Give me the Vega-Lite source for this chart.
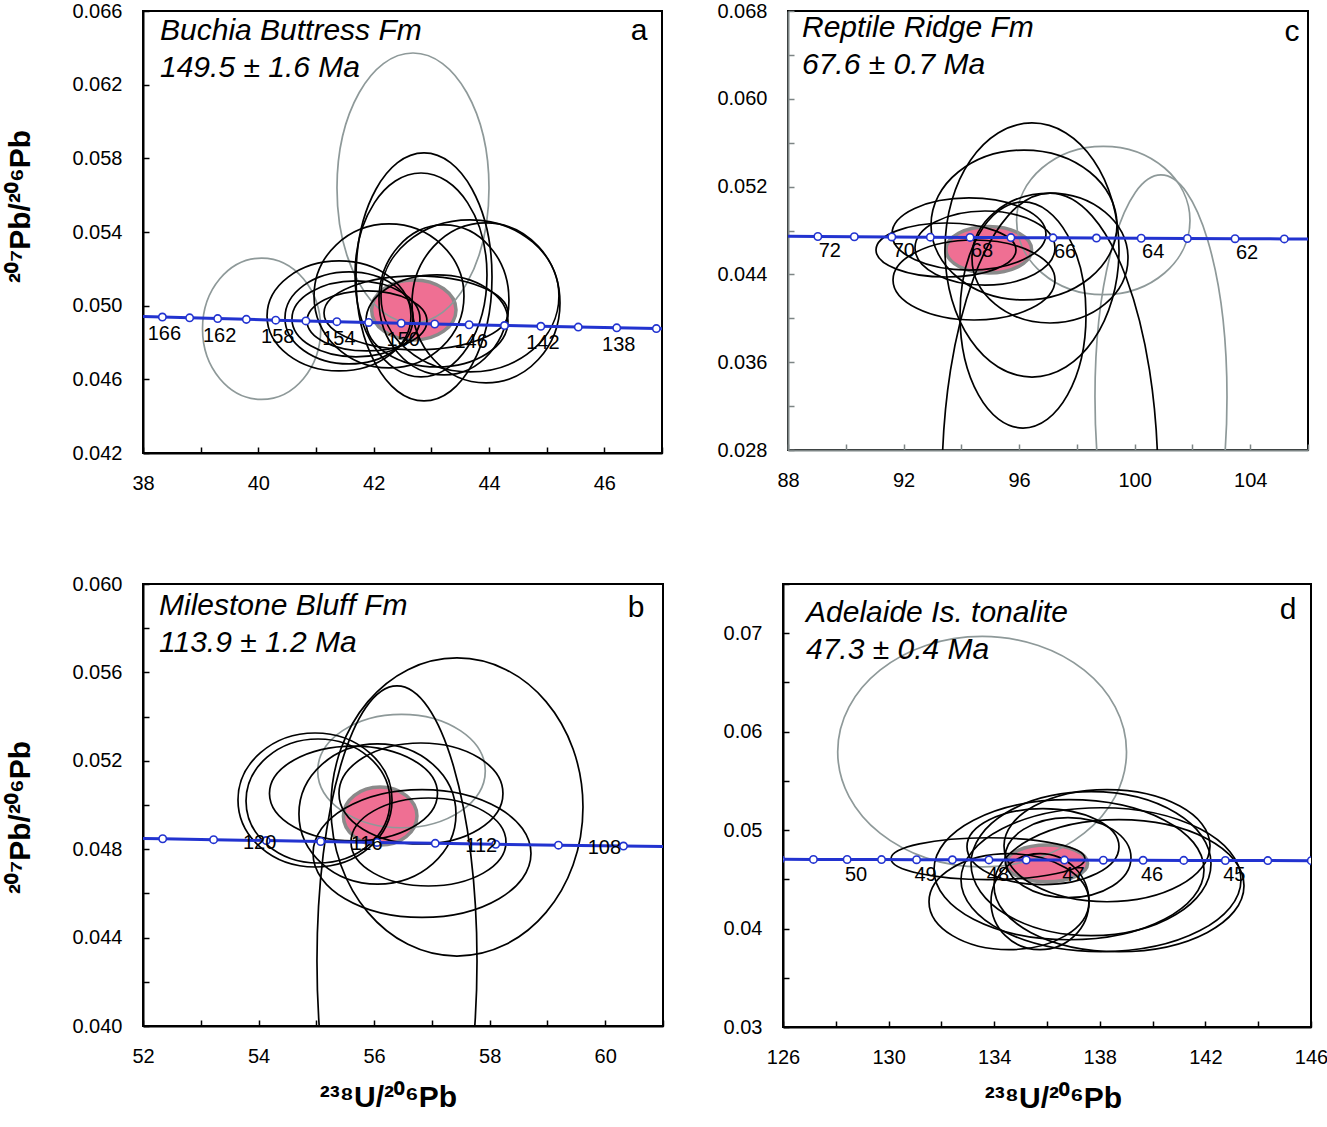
{
  "$schema": "https://vega.github.io/schema/vega-lite/v6.json",
  "background": "white",
  "padding": {"left": 4, "top": 0, "right": 5, "bottom": 5},
  "config": {
    "font": "Liberation Sans",
    "view": {"stroke": "#000000", "strokeWidth": 2},
    "axis": {"labelFont": "Liberation Sans", "titleFont": "Liberation Sans", "labelColor": "#000000", "titleColor": "#000000", "domainColor": "#000000", "tickColor": "#000000", "domainWidth": 2, "tickWidth": 1.5, "tickSize": -6, "labelFontSize": 20, "grid": false, "labelOverlap": false, "labelFlush": false},
    "title": {"font": "Liberation Sans"},
    "text": {"font": "Liberation Sans"}
  },
  "datasets": {
    "ell": [
      {"p": "a", "id": "a0", "kind": "mean", "x": 42.696, "y": 0.049768, "sx": 0.732, "sy": 0.001629},
      {"p": "a", "id": "a13", "kind": "gray", "x": 42.682, "y": 0.056391, "sx": 1.318, "sy": 0.00733},
      {"p": "a", "id": "a14", "kind": "gray", "x": 40.057, "y": 0.048747, "sx": 1.025, "sy": 0.003833},
      {"p": "a", "id": "a1", "kind": "black", "x": 42.873, "y": 0.051559, "sx": 1.179, "sy": 0.006732},
      {"p": "a", "id": "a2", "kind": "black", "x": 42.821, "y": 0.051668, "sx": 1.144, "sy": 0.005537},
      {"p": "a", "id": "a3", "kind": "black", "x": 43.67, "y": 0.050528, "sx": 1.543, "sy": 0.004126},
      {"p": "a", "id": "a4", "kind": "black", "x": 43.948, "y": 0.050148, "sx": 1.283, "sy": 0.004343},
      {"p": "a", "id": "a5", "kind": "black", "x": 43.219, "y": 0.05031, "sx": 1.127, "sy": 0.004072},
      {"p": "a", "id": "a6", "kind": "black", "x": 42.266, "y": 0.050528, "sx": 1.3, "sy": 0.003909},
      {"p": "a", "id": "a7", "kind": "black", "x": 41.399, "y": 0.049442, "sx": 1.248, "sy": 0.002986},
      {"p": "a", "id": "a8", "kind": "black", "x": 41.572, "y": 0.049333, "sx": 1.11, "sy": 0.002497},
      {"p": "a", "id": "a9", "kind": "black", "x": 41.693, "y": 0.049279, "sx": 1.11, "sy": 0.002063},
      {"p": "a", "id": "a10", "kind": "black", "x": 41.884, "y": 0.04917, "sx": 1.04, "sy": 0.001629},
      {"p": "a", "id": "a11", "kind": "black", "x": 42.734, "y": 0.049605, "sx": 1.595, "sy": 0.002009},
      {"p": "a", "id": "a12", "kind": "black", "x": 43.098, "y": 0.04917, "sx": 1.231, "sy": 0.002497},

      {"p": "c", "id": "c0", "kind": "mean", "x": 94.951, "y": 0.04625, "sx": 1.482, "sy": 0.002123},
      {"p": "c", "id": "c10", "kind": "gray", "x": 98.914, "y": 0.048911, "sx": 3.001, "sy": 0.006761},
      {"p": "c", "id": "c11", "kind": "gray", "x": 100.911, "y": 0.032829, "sx": 2.285, "sy": 0.020228},
      {"p": "c", "id": "c1", "kind": "black", "x": 96.446, "y": 0.046223, "sx": 3.012, "sy": 0.011572},
      {"p": "c", "id": "c2", "kind": "black", "x": 96.169, "y": 0.048501, "sx": 3.219, "sy": 0.006834},
      {"p": "c", "id": "c3", "kind": "black", "x": 96.135, "y": 0.040301, "sx": 2.181, "sy": 0.010296},
      {"p": "c", "id": "c4", "kind": "black", "x": 97.069, "y": 0.024993, "sx": 3.738, "sy": 0.026424},
      {"p": "c", "id": "c5", "kind": "black", "x": 93.469, "y": 0.046223, "sx": 2.423, "sy": 0.00246},
      {"p": "c", "id": "c6", "kind": "black", "x": 94.265, "y": 0.047681, "sx": 2.665, "sy": 0.00328},
      {"p": "c", "id": "c7", "kind": "black", "x": 94.439, "y": 0.04349, "sx": 2.804, "sy": 0.003645},
      {"p": "c", "id": "c8", "kind": "black", "x": 94.819, "y": 0.046405, "sx": 2.423, "sy": 0.003371},
      {"p": "c", "id": "c9", "kind": "black", "x": 97.069, "y": 0.045494, "sx": 2.7, "sy": 0.005923},

      {"p": "b", "id": "b0", "kind": "mean", "x": 56.105, "y": 0.049502, "sx": 0.637, "sy": 0.001312},
      {"p": "b", "id": "b10", "kind": "gray", "x": 56.474, "y": 0.051538, "sx": 1.45, "sy": 0.002566},
      {"p": "b", "id": "b1", "kind": "black", "x": 57.434, "y": 0.04991, "sx": 2.181, "sy": 0.006742},
      {"p": "b", "id": "b2", "kind": "black", "x": 56.396, "y": 0.042941, "sx": 1.385, "sy": 0.012443},
      {"p": "b", "id": "b3", "kind": "black", "x": 54.977, "y": 0.050226, "sx": 1.333, "sy": 0.003032},
      {"p": "b", "id": "b4", "kind": "black", "x": 55.029, "y": 0.050181, "sx": 1.246, "sy": 0.002805},
      {"p": "b", "id": "b5", "kind": "black", "x": 55.643, "y": 0.05052, "sx": 1.454, "sy": 0.002149},
      {"p": "b", "id": "b6", "kind": "black", "x": 56.058, "y": 0.049593, "sx": 1.359, "sy": 0.003167},
      {"p": "b", "id": "b7", "kind": "black", "x": 56.811, "y": 0.05052, "sx": 1.419, "sy": 0.002285},
      {"p": "b", "id": "b8", "kind": "black", "x": 56.829, "y": 0.047805, "sx": 1.886, "sy": 0.002896},
      {"p": "b", "id": "b9", "kind": "black", "x": 56.941, "y": 0.048326, "sx": 1.341, "sy": 0.001991},

      {"p": "d", "id": "d0", "kind": "mean", "x": 135.992, "y": 0.046619, "sx": 1.545, "sy": 0.001859},
      {"p": "d", "id": "d11", "kind": "gray", "x": 133.542, "y": 0.057966, "sx": 5.47, "sy": 0.011703},
      {"p": "d", "id": "d1", "kind": "black", "x": 133.765, "y": 0.047097, "sx": 3.674, "sy": 0.002133},
      {"p": "d", "id": "d2", "kind": "black", "x": 134.561, "y": 0.042729, "sx": 3.03, "sy": 0.004876},
      {"p": "d", "id": "d3", "kind": "black", "x": 136.833, "y": 0.045979, "sx": 5.114, "sy": 0.007111},
      {"p": "d", "id": "d4", "kind": "black", "x": 137.667, "y": 0.046589, "sx": 4.545, "sy": 0.007314},
      {"p": "d", "id": "d5", "kind": "black", "x": 138.045, "y": 0.044964, "sx": 5.303, "sy": 0.007314},
      {"p": "d", "id": "d6", "kind": "black", "x": 136.795, "y": 0.047198, "sx": 2.386, "sy": 0.004063},
      {"p": "d", "id": "d7", "kind": "black", "x": 135.848, "y": 0.048316, "sx": 2.879, "sy": 0.00386},
      {"p": "d", "id": "d8", "kind": "black", "x": 138.273, "y": 0.048417, "sx": 3.902, "sy": 0.005689},
      {"p": "d", "id": "d9", "kind": "black", "x": 138.727, "y": 0.044354, "sx": 4.735, "sy": 0.006705},
      {"p": "d", "id": "d10", "kind": "black", "x": 135.735, "y": 0.042729, "sx": 1.856, "sy": 0.004876}
    ],
    "conc": [
      {"p": "a", "age": 134, "x": 47.609, "y": 0.048712},
      {"p": "a", "age": 136, "x": 46.902, "y": 0.048754},
      {"p": "a", "age": 138, "x": 46.215, "y": 0.048796},
      {"p": "a", "age": 140, "x": 45.548, "y": 0.048838},
      {"p": "a", "age": 142, "x": 44.899, "y": 0.04888},
      {"p": "a", "age": 144, "x": 44.269, "y": 0.048921},
      {"p": "a", "age": 146, "x": 43.655, "y": 0.048963},
      {"p": "a", "age": 148, "x": 43.059, "y": 0.049005},
      {"p": "a", "age": 150, "x": 42.478, "y": 0.049045},
      {"p": "a", "age": 152, "x": 41.913, "y": 0.049089},
      {"p": "a", "age": 154, "x": 41.362, "y": 0.049131},
      {"p": "a", "age": 156, "x": 40.825, "y": 0.049173},
      {"p": "a", "age": 158, "x": 40.302, "y": 0.049214},
      {"p": "a", "age": 160, "x": 39.792, "y": 0.049256},
      {"p": "a", "age": 162, "x": 39.295, "y": 0.049298},
      {"p": "a", "age": 164, "x": 38.809, "y": 0.049339},
      {"p": "a", "age": 166, "x": 38.336, "y": 0.049382},
      {"p": "a", "age": 168, "x": 37.875, "y": 0.049424},

      {"p": "c", "age": 60, "x": 106.941, "y": 0.047213},
      {"p": "c", "age": 61, "x": 105.18, "y": 0.047233},
      {"p": "c", "age": 62, "x": 103.475, "y": 0.047253},
      {"p": "c", "age": 63, "x": 101.825, "y": 0.047273},
      {"p": "c", "age": 64, "x": 100.226, "y": 0.047292},
      {"p": "c", "age": 65, "x": 98.677, "y": 0.047312},
      {"p": "c", "age": 66, "x": 97.174, "y": 0.047332},
      {"p": "c", "age": 67, "x": 95.716, "y": 0.047352},
      {"p": "c", "age": 68, "x": 94.301, "y": 0.047372},
      {"p": "c", "age": 69, "x": 92.927, "y": 0.047392},
      {"p": "c", "age": 70, "x": 91.593, "y": 0.047412},
      {"p": "c", "age": 71, "x": 90.296, "y": 0.047431},
      {"p": "c", "age": 72, "x": 89.034, "y": 0.047451},
      {"p": "c", "age": 73, "x": 87.808, "y": 0.047471},
      {"p": "c", "age": 74, "x": 86.615, "y": 0.047491},

      {"p": "b", "age": 102, "x": 62.701, "y": 0.04806},
      {"p": "b", "age": 104, "x": 61.486, "y": 0.048101},
      {"p": "b", "age": 106, "x": 60.316, "y": 0.048143},
      {"p": "b", "age": 108, "x": 59.19, "y": 0.048184},
      {"p": "b", "age": 110, "x": 58.105, "y": 0.048225},
      {"p": "b", "age": 112, "x": 57.058, "y": 0.048266},
      {"p": "b", "age": 114, "x": 56.049, "y": 0.048307},
      {"p": "b", "age": 116, "x": 55.075, "y": 0.048349},
      {"p": "b", "age": 118, "x": 54.133, "y": 0.04839},
      {"p": "b", "age": 120, "x": 53.222, "y": 0.048431},
      {"p": "b", "age": 122, "x": 52.341, "y": 0.048472},
      {"p": "b", "age": 124, "x": 51.489, "y": 0.048513},

      {"p": "d", "age": 44, "x": 146.01, "y": 0.046895},
      {"p": "d", "age": 44.5, "x": 144.364, "y": 0.046905},
      {"p": "d", "age": 45, "x": 142.755, "y": 0.046915},
      {"p": "d", "age": 45.5, "x": 141.18, "y": 0.046925},
      {"p": "d", "age": 46, "x": 139.64, "y": 0.046934},
      {"p": "d", "age": 46.5, "x": 138.133, "y": 0.046944},
      {"p": "d", "age": 47, "x": 136.659, "y": 0.046954},
      {"p": "d", "age": 47.5, "x": 135.215, "y": 0.046964},
      {"p": "d", "age": 48, "x": 133.801, "y": 0.046974},
      {"p": "d", "age": 48.5, "x": 132.417, "y": 0.046984},
      {"p": "d", "age": 49, "x": 131.06, "y": 0.046994},
      {"p": "d", "age": 49.5, "x": 129.732, "y": 0.047004},
      {"p": "d", "age": 50, "x": 128.429, "y": 0.047014},
      {"p": "d", "age": 50.5, "x": 127.153, "y": 0.047024},
      {"p": "d", "age": 51, "x": 125.901, "y": 0.047034}
    ]
  },
  "spacing": 79,
  "resolve": {"scale": {"size": "independent", "shape": "independent"}},
  "vconcat": [
    {
      "spacing": 51,
      "resolve": {"scale": {"size": "independent", "shape": "independent"}},
      "hconcat": [
        {
          "width": 519, "height": 442,
          "title": {"text": ["Buchia Buttress Fm", "149.5 ± 1.6 Ma"], "anchor": "start", "orient": "top", "frame": "group", "offset": -82, "dx": 17, "fontSize": 30, "fontStyle": "italic", "fontWeight": "normal", "lineHeight": 37, "color": "#000000", "font": "Liberation Sans"},
          "resolve": {"axis": {"x": "independent"}},
          "layer": [
            {
              "data": {"name": "ell"},
              "transform": [{"filter": "datum.p == 'a' && datum.kind == 'mean'"}],
              "mark": {"type": "point", "filled": true, "fill": "#ef6f93", "stroke": "#8a8a8a", "strokeWidth": 3.5, "opacity": 1, "clip": true},
              "encoding": {
                "x": {"field": "x", "type": "quantitative", "scale": {"domain": [38, 47], "nice": false, "zero": false},
                  "axis": {"orient": "bottom", "values": [38, 39, 40, 41, 42, 43, 44, 45, 46, 47], "format": "d", "labelExpr": "datum.value % 2 == 0 ? datum.label : ''", "labelPadding": 26, "title": null}},
                "y": {"field": "y", "type": "quantitative", "scale": {"domain": [0.042, 0.066], "nice": false, "zero": false},
                  "axis": {"values": [0.042, 0.044, 0.046, 0.048, 0.05, 0.052, 0.054, 0.056, 0.058, 0.06, 0.062, 0.064, 0.066], "format": ".3f", "labelExpr": "round(datum.value*1000) % 4 == 2 ? datum.label : ''", "labelPadding": 27, "title": "²⁰⁷Pb/²⁰⁶Pb", "titleFontSize": 30, "titleFontWeight": "bold", "titlePadding": 36, "titleY": 195}},
                "size": {"field": "sx", "type": "quantitative", "scale": {"type": "pow", "exponent": 2, "domain": [0, 2], "range": [0, 53207], "zero": true, "nice": false}, "legend": null},
                "shape": {"field": "id", "type": "nominal", "legend": null, "scale": {
                  "domain": ["a0", "a1", "a2", "a3", "a4", "a5", "a6", "a7", "a8", "a9", "a10", "a11", "a12", "a13", "a14"],
                  "range": [
                    "M1,0C1,0.393 0.552,0.711 0,0.711C-0.552,0.711 -1,0.393 -1,0C-1,-0.393 -0.552,-0.711 0,-0.711C0.552,-0.711 1,-0.393 1,0Z",
                    "M1,0C1,1.007 0.552,1.824 0,1.824C-0.552,1.824 -1,1.007 -1,0C-1,-1.007 -0.552,-1.824 0,-1.824C0.552,-1.824 1,-1.007 1,0Z",
                    "M1,0C1,0.853 0.552,1.545 0,1.545C-0.552,1.545 -1,0.853 -1,0C-1,-0.853 -0.552,-1.545 0,-1.545C0.552,-1.545 1,-0.853 1,0Z",
                    "M1,0C1,0.472 0.552,0.854 0,0.854C-0.552,0.854 -1,0.472 -1,0C-1,-0.472 -0.552,-0.854 0,-0.854C0.552,-0.854 1,-0.472 1,0Z",
                    "M1,0C1,0.597 0.552,1.081 0,1.081C-0.552,1.081 -1,0.597 -1,0C-1,-0.597 -0.552,-1.081 0,-1.081C0.552,-1.081 1,-0.597 1,0Z",
                    "M1,0C1,0.637 0.552,1.154 0,1.154C-0.552,1.154 -1,0.637 -1,0C-1,-0.637 -0.552,-1.154 0,-1.154C0.552,-1.154 1,-0.637 1,0Z",
                    "M1,0C1,0.53 0.552,0.96 0,0.96C-0.552,0.96 -1,0.53 -1,0C-1,-0.53 -0.552,-0.96 0,-0.96C0.552,-0.96 1,-0.53 1,0Z",
                    "M1,0C1,0.422 0.552,0.764 0,0.764C-0.552,0.764 -1,0.422 -1,0C-1,-0.422 -0.552,-0.764 0,-0.764C0.552,-0.764 1,-0.422 1,0Z",
                    "M1,0C1,0.397 0.552,0.719 0,0.719C-0.552,0.719 -1,0.397 -1,0C-1,-0.397 -0.552,-0.719 0,-0.719C0.552,-0.719 1,-0.397 1,0Z",
                    "M1,0C1,0.328 0.552,0.594 0,0.594C-0.552,0.594 -1,0.328 -1,0C-1,-0.328 -0.552,-0.594 0,-0.594C0.552,-0.594 1,-0.328 1,0Z",
                    "M1,0C1,0.276 0.552,0.5 0,0.5C-0.552,0.5 -1,0.276 -1,0C-1,-0.276 -0.552,-0.5 0,-0.5C0.552,-0.5 1,-0.276 1,0Z",
                    "M1,0C1,0.222 0.552,0.402 0,0.402C-0.552,0.402 -1,0.222 -1,0C-1,-0.222 -0.552,-0.402 0,-0.402C0.552,-0.402 1,-0.222 1,0Z",
                    "M1,0C1,0.358 0.552,0.648 0,0.648C-0.552,0.648 -1,0.358 -1,0C-1,-0.358 -0.552,-0.648 0,-0.648C0.552,-0.648 1,-0.358 1,0Z",
                    "M1,0C1,0.981 0.552,1.776 0,1.776C-0.552,1.776 -1,0.981 -1,0C-1,-0.981 -0.552,-1.776 0,-1.776C0.552,-1.776 1,-0.981 1,0Z",
                    "M1,0C1,0.66 0.552,1.195 0,1.195C-0.552,1.195 -1,0.66 -1,0C-1,-0.66 -0.552,-1.195 0,-1.195C0.552,-1.195 1,-0.66 1,0Z"
                  ]}}
              }
            },
            {
              "data": {"name": "ell"},
              "transform": [{"filter": "datum.p == 'a' && datum.kind != 'mean'"}],
              "mark": {"type": "point", "filled": false, "strokeWidth": 1.7, "opacity": 1, "clip": true},
              "encoding": {
                "x": {"field": "x", "type": "quantitative", "axis": null},
                "y": {"field": "y", "type": "quantitative"},
                "size": {"field": "sx", "type": "quantitative", "scale": {"type": "pow", "exponent": 2, "domain": [0, 2], "range": [0, 53207], "zero": true, "nice": false}, "legend": null},
                "shape": {"field": "id", "type": "nominal", "legend": null},
                "stroke": {"field": "kind", "type": "nominal", "scale": {"domain": ["gray", "black"], "range": ["#8e9999", "#000000"]}, "legend": null}
              }
            },
            {
              "data": {"name": "conc"},
              "transform": [{"filter": "datum.p == 'a'"}],
              "mark": {"type": "line", "color": "#2233d0", "strokeWidth": 3, "clip": true},
              "encoding": {
                "x": {"field": "x", "type": "quantitative", "axis": {"orient": "top", "labels": false, "ticks": false, "domain": false, "grid": false, "title": "a", "titleX": 504, "titleY": 28, "titleAlign": "right", "titleAngle": 0, "titleBaseline": "alphabetic", "titleFontSize": 30, "titleFontWeight": "normal"}},
                "y": {"field": "y", "type": "quantitative"},
                "order": {"field": "age", "type": "quantitative"}
              }
            },
            {
              "data": {"name": "conc"},
              "transform": [{"filter": "datum.p == 'a'"}],
              "mark": {"type": "point", "filled": true, "fill": "white", "stroke": "#2233d0", "strokeWidth": 1.6, "size": 55, "opacity": 1, "clip": true},
              "encoding": {
                "x": {"field": "x", "type": "quantitative", "axis": null},
                "y": {"field": "y", "type": "quantitative"}
              }
            },
            {
              "data": {"name": "conc"},
              "transform": [{"filter": "datum.p == 'a' && datum.age % 4 == 2 && datum.age >= 138 && datum.age <= 166"}],
              "mark": {"type": "text", "fontSize": 20, "dx": 2, "dy": 17, "color": "#000000"},
              "encoding": {
                "x": {"field": "x", "type": "quantitative", "axis": null},
                "y": {"field": "y", "type": "quantitative"},
                "text": {"field": "age", "type": "quantitative"}
              }
            }
          ]
        },
        {
          "width": 520, "height": 439,
          "title": {"text": ["Reptile Ridge Fm", "67.6 ± 0.7 Ma"], "anchor": "start", "orient": "top", "frame": "group", "offset": -79, "dx": 14, "fontSize": 30, "fontStyle": "italic", "fontWeight": "normal", "lineHeight": 37, "color": "#000000", "font": "Liberation Sans"},
          "resolve": {"axis": {"x": "independent"}},
          "layer": [
            {
              "data": {"name": "ell"},
              "transform": [{"filter": "datum.p == 'c' && datum.kind == 'mean'"}],
              "mark": {"type": "point", "filled": true, "fill": "#ef6f93", "stroke": "#8a8a8a", "strokeWidth": 3.5, "opacity": 1, "clip": true},
              "encoding": {
                "x": {"field": "x", "type": "quantitative", "scale": {"domain": [88, 106], "nice": false, "zero": false},
                  "axis": {"orient": "bottom", "values": [88, 90, 92, 94, 96, 98, 100, 102, 104, 106], "format": "d", "labelExpr": "(datum.value - 88) % 4 == 0 ? datum.label : ''", "labelPadding": 26, "title": null, "domainColor": "#7d8585", "tickColor": "#7d8585"}},
                "y": {"field": "y", "type": "quantitative", "scale": {"domain": [0.028, 0.068], "nice": false, "zero": false},
                  "axis": {"values": [0.028, 0.032, 0.036, 0.04, 0.044, 0.048, 0.052, 0.056, 0.06, 0.064, 0.068], "format": ".3f", "labelExpr": "round(datum.value*1000) % 8 == 4 ? datum.label : ''", "labelPadding": 27, "title": null, "domainColor": "#7d8585", "tickColor": "#7d8585"}},
                "size": {"field": "sx", "type": "quantitative", "scale": {"type": "pow", "exponent": 2, "domain": [0, 4], "range": [0, 53412], "zero": true, "nice": false}, "legend": null},
                "shape": {"field": "id", "type": "nominal", "legend": null, "scale": {
                  "domain": ["c0", "c1", "c2", "c3", "c4", "c5", "c6", "c7", "c8", "c9", "c10", "c11"],
                  "range": [
                    "M1,0C1,0.3 0.552,0.544 0,0.544C-0.552,0.544 -1,0.3 -1,0C-1,-0.3 -0.552,-0.544 0,-0.544C0.552,-0.544 1,-0.3 1,0Z",
                    "M1,0C1,0.806 0.552,1.46 0,1.46C-0.552,1.46 -1,0.806 -1,0C-1,-0.806 -0.552,-1.46 0,-1.46C0.552,-1.46 1,-0.806 1,0Z",
                    "M1,0C1,0.445 0.552,0.806 0,0.806C-0.552,0.806 -1,0.445 -1,0C-1,-0.445 -0.552,-0.806 0,-0.806C0.552,-0.806 1,-0.445 1,0Z",
                    "M1,0C1,0.991 0.552,1.794 0,1.794C-0.552,1.794 -1,0.991 -1,0C-1,-0.991 -0.552,-1.794 0,-1.794C0.552,-1.794 1,-0.991 1,0Z",
                    "M1,0C1,1.483 0.552,2.685 0,2.685C-0.552,2.685 -1,1.483 -1,0C-1,-1.483 -0.552,-2.685 0,-2.685C0.552,-2.685 1,-1.483 1,0Z",
                    "M1,0C1,0.213 0.552,0.386 0,0.386C-0.552,0.386 -1,0.213 -1,0C-1,-0.213 -0.552,-0.386 0,-0.386C0.552,-0.386 1,-0.213 1,0Z",
                    "M1,0C1,0.258 0.552,0.468 0,0.468C-0.552,0.468 -1,0.258 -1,0C-1,-0.258 -0.552,-0.468 0,-0.468C0.552,-0.468 1,-0.258 1,0Z",
                    "M1,0C1,0.273 0.552,0.494 0,0.494C-0.552,0.494 -1,0.273 -1,0C-1,-0.273 -0.552,-0.494 0,-0.494C0.552,-0.494 1,-0.273 1,0Z",
                    "M1,0C1,0.292 0.552,0.529 0,0.529C-0.552,0.529 -1,0.292 -1,0C-1,-0.292 -0.552,-0.529 0,-0.529C0.552,-0.529 1,-0.292 1,0Z",
                    "M1,0C1,0.46 0.552,0.833 0,0.833C-0.552,0.833 -1,0.46 -1,0C-1,-0.46 -0.552,-0.833 0,-0.833C0.552,-0.833 1,-0.46 1,0Z",
                    "M1,0C1,0.473 0.552,0.856 0,0.856C-0.552,0.856 -1,0.473 -1,0C-1,-0.473 -0.552,-0.856 0,-0.856C0.552,-0.856 1,-0.473 1,0Z",
                    "M1,0C1,1.858 0.552,3.364 0,3.364C-0.552,3.364 -1,1.858 -1,0C-1,-1.858 -0.552,-3.364 0,-3.364C0.552,-3.364 1,-1.858 1,0Z"
                  ]}}
              }
            },
            {
              "data": {"name": "ell"},
              "transform": [{"filter": "datum.p == 'c' && datum.kind != 'mean'"}],
              "mark": {"type": "point", "filled": false, "strokeWidth": 1.7, "opacity": 1, "clip": true},
              "encoding": {
                "x": {"field": "x", "type": "quantitative", "axis": null},
                "y": {"field": "y", "type": "quantitative"},
                "size": {"field": "sx", "type": "quantitative", "scale": {"type": "pow", "exponent": 2, "domain": [0, 4], "range": [0, 53412], "zero": true, "nice": false}, "legend": null},
                "shape": {"field": "id", "type": "nominal", "legend": null},
                "stroke": {"field": "kind", "type": "nominal", "scale": {"domain": ["gray", "black"], "range": ["#8e9999", "#000000"]}, "legend": null}
              }
            },
            {
              "data": {"name": "conc"},
              "transform": [{"filter": "datum.p == 'c'"}],
              "mark": {"type": "line", "color": "#2233d0", "strokeWidth": 3, "clip": true},
              "encoding": {
                "x": {"field": "x", "type": "quantitative", "axis": {"orient": "top", "labels": false, "ticks": false, "domain": false, "grid": false, "title": "c", "titleX": 511, "titleY": 29, "titleAlign": "right", "titleAngle": 0, "titleBaseline": "alphabetic", "titleFontSize": 30, "titleFontWeight": "normal"}},
                "y": {"field": "y", "type": "quantitative"},
                "order": {"field": "age", "type": "quantitative"}
              }
            },
            {
              "data": {"name": "conc"},
              "transform": [{"filter": "datum.p == 'c'"}],
              "mark": {"type": "point", "filled": true, "fill": "white", "stroke": "#2233d0", "strokeWidth": 1.6, "size": 55, "opacity": 1, "clip": true},
              "encoding": {
                "x": {"field": "x", "type": "quantitative", "axis": null},
                "y": {"field": "y", "type": "quantitative"}
              }
            },
            {
              "data": {"name": "conc"},
              "transform": [{"filter": "datum.p == 'c' && datum.age % 2 == 0 && datum.age >= 62 && datum.age <= 72"}],
              "mark": {"type": "text", "fontSize": 20, "dx": 12, "dy": 14, "color": "#000000"},
              "encoding": {
                "x": {"field": "x", "type": "quantitative", "axis": null},
                "y": {"field": "y", "type": "quantitative"},
                "text": {"field": "age", "type": "quantitative"}
              }
            }
          ]
        }
      ]
    },
    {
      "spacing": 57,
      "resolve": {"scale": {"size": "independent", "shape": "independent"}},
      "hconcat": [
        {
          "width": 520, "height": 442,
          "title": {"text": ["Milestone Bluff Fm", "113.9 ± 1.2 Ma"], "anchor": "start", "orient": "top", "frame": "group", "offset": -84, "dx": 16, "fontSize": 30, "fontStyle": "italic", "fontWeight": "normal", "lineHeight": 37, "color": "#000000", "font": "Liberation Sans"},
          "resolve": {"axis": {"x": "independent"}},
          "layer": [
            {
              "data": {"name": "ell"},
              "transform": [{"filter": "datum.p == 'b' && datum.kind == 'mean'"}],
              "mark": {"type": "point", "filled": true, "fill": "#ef6f93", "stroke": "#8a8a8a", "strokeWidth": 3.5, "opacity": 1, "clip": true},
              "encoding": {
                "x": {"field": "x", "type": "quantitative", "scale": {"domain": [52, 61], "nice": false, "zero": false},
                  "axis": {"orient": "bottom", "values": [52, 53, 54, 55, 56, 57, 58, 59, 60, 61], "format": "d", "labelExpr": "datum.value % 2 == 0 ? datum.label : ''", "labelPadding": 26, "title": "²³⁸U/²⁰⁶Pb", "titleFontSize": 30, "titleFontWeight": "bold", "titlePadding": 16, "titleX": 245}},
                "y": {"field": "y", "type": "quantitative", "scale": {"domain": [0.04, 0.06], "nice": false, "zero": false},
                  "axis": {"values": [0.04, 0.042, 0.044, 0.046, 0.048, 0.05, 0.052, 0.054, 0.056, 0.058, 0.06], "format": ".3f", "labelExpr": "round(datum.value*1000) % 4 == 0 ? datum.label : ''", "labelPadding": 27, "title": "²⁰⁷Pb/²⁰⁶Pb", "titleFontSize": 30, "titleFontWeight": "bold", "titlePadding": 36, "titleY": 233}},
                "size": {"field": "sx", "type": "quantitative", "scale": {"type": "pow", "exponent": 2, "domain": [0, 3], "range": [0, 120178], "zero": true, "nice": false}, "legend": null},
                "shape": {"field": "id", "type": "nominal", "legend": null, "scale": {
                  "domain": ["b0", "b1", "b2", "b3", "b4", "b5", "b6", "b7", "b8", "b9", "b10"],
                  "range": [
                    "M1,0C1,0.435 0.552,0.788 0,0.788C-0.552,0.788 -1,0.435 -1,0C-1,-0.435 -0.552,-0.788 0,-0.788C0.552,-0.788 1,-0.435 1,0Z",
                    "M1,0C1,0.653 0.552,1.183 0,1.183C-0.552,1.183 -1,0.653 -1,0C-1,-0.653 -0.552,-1.183 0,-1.183C0.552,-1.183 1,-0.653 1,0Z",
                    "M1,0C1,1.899 0.552,3.438 0,3.438C-0.552,3.438 -1,1.899 -1,0C-1,-1.899 -0.552,-3.438 0,-3.438C0.552,-3.438 1,-1.899 1,0Z",
                    "M1,0C1,0.48 0.552,0.87 0,0.87C-0.552,0.87 -1,0.48 -1,0C-1,-0.48 -0.552,-0.87 0,-0.87C0.552,-0.87 1,-0.48 1,0Z",
                    "M1,0C1,0.476 0.552,0.861 0,0.861C-0.552,0.861 -1,0.476 -1,0C-1,-0.476 -0.552,-0.861 0,-0.861C0.552,-0.861 1,-0.476 1,0Z",
                    "M1,0C1,0.312 0.552,0.565 0,0.565C-0.552,0.565 -1,0.312 -1,0C-1,-0.312 -0.552,-0.565 0,-0.565C0.552,-0.565 1,-0.312 1,0Z",
                    "M1,0C1,0.493 0.552,0.892 0,0.892C-0.552,0.892 -1,0.493 -1,0C-1,-0.493 -0.552,-0.892 0,-0.892C0.552,-0.892 1,-0.493 1,0Z",
                    "M1,0C1,0.34 0.552,0.616 0,0.616C-0.552,0.616 -1,0.34 -1,0C-1,-0.34 -0.552,-0.616 0,-0.616C0.552,-0.616 1,-0.34 1,0Z",
                    "M1,0C1,0.324 0.552,0.587 0,0.587C-0.552,0.587 -1,0.324 -1,0C-1,-0.324 -0.552,-0.587 0,-0.587C0.552,-0.587 1,-0.324 1,0Z",
                    "M1,0C1,0.314 0.552,0.568 0,0.568C-0.552,0.568 -1,0.314 -1,0C-1,-0.314 -0.552,-0.568 0,-0.568C0.552,-0.568 1,-0.314 1,0Z",
                    "M1,0C1,0.374 0.552,0.677 0,0.677C-0.552,0.677 -1,0.374 -1,0C-1,-0.374 -0.552,-0.677 0,-0.677C0.552,-0.677 1,-0.374 1,0Z"
                  ]}}
              }
            },
            {
              "data": {"name": "ell"},
              "transform": [{"filter": "datum.p == 'b' && datum.kind != 'mean'"}],
              "mark": {"type": "point", "filled": false, "strokeWidth": 1.7, "opacity": 1, "clip": true},
              "encoding": {
                "x": {"field": "x", "type": "quantitative", "axis": null},
                "y": {"field": "y", "type": "quantitative"},
                "size": {"field": "sx", "type": "quantitative", "scale": {"type": "pow", "exponent": 2, "domain": [0, 3], "range": [0, 120178], "zero": true, "nice": false}, "legend": null},
                "shape": {"field": "id", "type": "nominal", "legend": null},
                "stroke": {"field": "kind", "type": "nominal", "scale": {"domain": ["gray", "black"], "range": ["#8e9999", "#000000"]}, "legend": null}
              }
            },
            {
              "data": {"name": "conc"},
              "transform": [{"filter": "datum.p == 'b'"}],
              "mark": {"type": "line", "color": "#2233d0", "strokeWidth": 3, "clip": true},
              "encoding": {
                "x": {"field": "x", "type": "quantitative", "axis": {"orient": "top", "labels": false, "ticks": false, "domain": false, "grid": false, "title": "b", "titleX": 501, "titleY": 32, "titleAlign": "right", "titleAngle": 0, "titleBaseline": "alphabetic", "titleFontSize": 30, "titleFontWeight": "normal"}},
                "y": {"field": "y", "type": "quantitative"},
                "order": {"field": "age", "type": "quantitative"}
              }
            },
            {
              "data": {"name": "conc"},
              "transform": [{"filter": "datum.p == 'b'"}],
              "mark": {"type": "point", "filled": true, "fill": "white", "stroke": "#2233d0", "strokeWidth": 1.6, "size": 55, "opacity": 1, "clip": true},
              "encoding": {
                "x": {"field": "x", "type": "quantitative", "axis": null},
                "y": {"field": "y", "type": "quantitative"}
              }
            },
            {
              "data": {"name": "conc"},
              "transform": [{"filter": "datum.p == 'b' && datum.age % 4 == 0 && datum.age >= 108 && datum.age <= 120"}],
              "mark": {"type": "text", "fontSize": 20, "dx": 46, "dy": 3, "color": "#000000"},
              "encoding": {
                "x": {"field": "x", "type": "quantitative", "axis": null},
                "y": {"field": "y", "type": "quantitative"},
                "text": {"field": "age", "type": "quantitative"}
              }
            }
          ]
        },
        {
          "width": 528, "height": 443,
          "title": {"text": ["Adelaide Is. tonalite", "47.3 ± 0.4 Ma"], "anchor": "start", "orient": "top", "frame": "group", "offset": -91, "dx": 23, "fontSize": 30, "fontStyle": "italic", "fontWeight": "normal", "lineHeight": 37, "color": "#000000", "font": "Liberation Sans"},
          "resolve": {"axis": {"x": "independent"}},
          "layer": [
            {
              "data": {"name": "ell"},
              "transform": [{"filter": "datum.p == 'd' && datum.kind == 'mean'"}],
              "mark": {"type": "point", "filled": true, "fill": "#ef6f93", "stroke": "#8a8a8a", "strokeWidth": 3.5, "opacity": 1, "clip": true},
              "encoding": {
                "x": {"field": "x", "type": "quantitative", "scale": {"domain": [126, 146], "nice": false, "zero": false},
                  "axis": {"orient": "bottom", "values": [126, 128, 130, 132, 134, 136, 138, 140, 142, 144, 146], "format": "d", "labelExpr": "(datum.value - 126) % 4 == 0 ? datum.label : ''", "labelPadding": 26, "title": "²³⁸U/²⁰⁶Pb", "titleFontSize": 30, "titleFontWeight": "bold", "titlePadding": 16, "titleX": 270}},
                "y": {"field": "y", "type": "quantitative", "scale": {"domain": [0.03, 0.075], "nice": false, "zero": false},
                  "axis": {"values": [0.03, 0.035, 0.04, 0.045, 0.05, 0.055, 0.06, 0.065, 0.07, 0.075], "format": ".2f", "labelExpr": "round(datum.value*1000) % 10 == 0 ? datum.label : ''", "labelPadding": 27, "title": null}},
                "size": {"field": "sx", "type": "quantitative", "scale": {"type": "pow", "exponent": 2, "domain": [0, 6], "range": [0, 100362], "zero": true, "nice": false}, "legend": null},
                "shape": {"field": "id", "type": "nominal", "legend": null, "scale": {
                  "domain": ["d0", "d1", "d2", "d3", "d4", "d5", "d6", "d7", "d8", "d9", "d10", "d11"],
                  "range": [
                    "M1,0C1,0.248 0.552,0.449 0,0.449C-0.552,0.449 -1,0.248 -1,0C-1,-0.248 -0.552,-0.449 0,-0.449C0.552,-0.449 1,-0.248 1,0Z",
                    "M1,0C1,0.119 0.552,0.216 0,0.216C-0.552,0.216 -1,0.119 -1,0C-1,-0.119 -0.552,-0.216 0,-0.216C0.552,-0.216 1,-0.119 1,0Z",
                    "M1,0C1,0.331 0.552,0.6 0,0.6C-0.552,0.6 -1,0.331 -1,0C-1,-0.331 -0.552,-0.6 0,-0.6C0.552,-0.6 1,-0.331 1,0Z",
                    "M1,0C1,0.287 0.552,0.519 0,0.519C-0.552,0.519 -1,0.287 -1,0C-1,-0.287 -0.552,-0.519 0,-0.519C0.552,-0.519 1,-0.287 1,0Z",
                    "M1,0C1,0.331 0.552,0.6 0,0.6C-0.552,0.6 -1,0.331 -1,0C-1,-0.331 -0.552,-0.6 0,-0.6C0.552,-0.6 1,-0.331 1,0Z",
                    "M1,0C1,0.284 0.552,0.514 0,0.514C-0.552,0.514 -1,0.284 -1,0C-1,-0.284 -0.552,-0.514 0,-0.514C0.552,-0.514 1,-0.284 1,0Z",
                    "M1,0C1,0.351 0.552,0.635 0,0.635C-0.552,0.635 -1,0.351 -1,0C-1,-0.351 -0.552,-0.635 0,-0.635C0.552,-0.635 1,-0.351 1,0Z",
                    "M1,0C1,0.276 0.552,0.5 0,0.5C-0.552,0.5 -1,0.276 -1,0C-1,-0.276 -0.552,-0.5 0,-0.5C0.552,-0.5 1,-0.276 1,0Z",
                    "M1,0C1,0.3 0.552,0.544 0,0.544C-0.552,0.544 -1,0.3 -1,0C-1,-0.3 -0.552,-0.544 0,-0.544C0.552,-0.544 1,-0.3 1,0Z",
                    "M1,0C1,0.292 0.552,0.528 0,0.528C-0.552,0.528 -1,0.292 -1,0C-1,-0.292 -0.552,-0.528 0,-0.528C0.552,-0.528 1,-0.292 1,0Z",
                    "M1,0C1,0.541 0.552,0.98 0,0.98C-0.552,0.98 -1,0.541 -1,0C-1,-0.541 -0.552,-0.98 0,-0.98C0.552,-0.98 1,-0.541 1,0Z",
                    "M1,0C1,0.441 0.552,0.798 0,0.798C-0.552,0.798 -1,0.441 -1,0C-1,-0.441 -0.552,-0.798 0,-0.798C0.552,-0.798 1,-0.441 1,0Z"
                  ]}}
              }
            },
            {
              "data": {"name": "ell"},
              "transform": [{"filter": "datum.p == 'd' && datum.kind != 'mean'"}],
              "mark": {"type": "point", "filled": false, "strokeWidth": 1.7, "opacity": 1, "clip": true},
              "encoding": {
                "x": {"field": "x", "type": "quantitative", "axis": null},
                "y": {"field": "y", "type": "quantitative"},
                "size": {"field": "sx", "type": "quantitative", "scale": {"type": "pow", "exponent": 2, "domain": [0, 6], "range": [0, 100362], "zero": true, "nice": false}, "legend": null},
                "shape": {"field": "id", "type": "nominal", "legend": null},
                "stroke": {"field": "kind", "type": "nominal", "scale": {"domain": ["gray", "black"], "range": ["#8e9999", "#000000"]}, "legend": null}
              }
            },
            {
              "data": {"name": "conc"},
              "transform": [{"filter": "datum.p == 'd'"}],
              "mark": {"type": "line", "color": "#2233d0", "strokeWidth": 3, "clip": true},
              "encoding": {
                "x": {"field": "x", "type": "quantitative", "axis": {"orient": "top", "labels": false, "ticks": false, "domain": false, "grid": false, "title": "d", "titleX": 513, "titleY": 34, "titleAlign": "right", "titleAngle": 0, "titleBaseline": "alphabetic", "titleFontSize": 30, "titleFontWeight": "normal"}},
                "y": {"field": "y", "type": "quantitative"},
                "order": {"field": "age", "type": "quantitative"}
              }
            },
            {
              "data": {"name": "conc"},
              "transform": [{"filter": "datum.p == 'd'"}],
              "mark": {"type": "point", "filled": true, "fill": "white", "stroke": "#2233d0", "strokeWidth": 1.6, "size": 55, "opacity": 1, "clip": true},
              "encoding": {
                "x": {"field": "x", "type": "quantitative", "axis": null},
                "y": {"field": "y", "type": "quantitative"}
              }
            },
            {
              "data": {"name": "conc"},
              "transform": [{"filter": "datum.p == 'd' && datum.age % 1 == 0 && datum.age >= 45 && datum.age <= 50"}],
              "mark": {"type": "text", "fontSize": 20, "dx": 9, "dy": 15, "color": "#000000"},
              "encoding": {
                "x": {"field": "x", "type": "quantitative", "axis": null},
                "y": {"field": "y", "type": "quantitative"},
                "text": {"field": "age", "type": "quantitative"}
              }
            }
          ]
        }
      ]
    }
  ]
}
